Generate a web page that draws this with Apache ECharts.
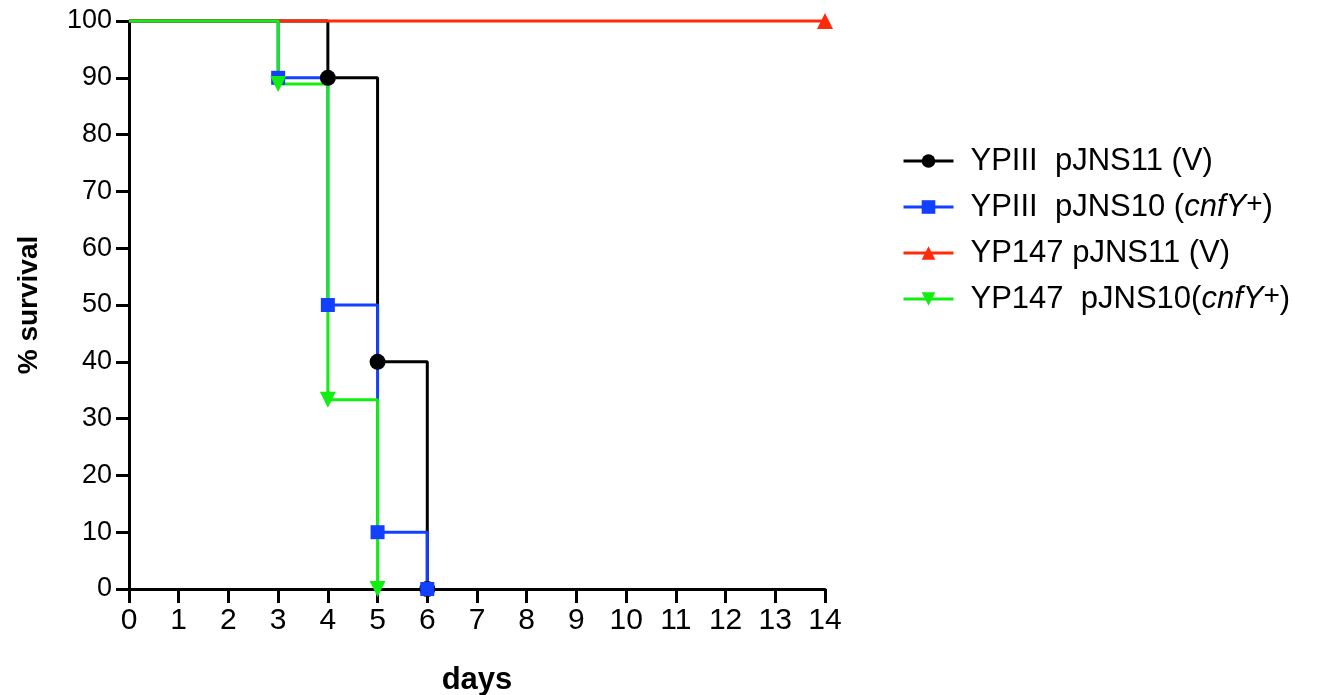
<!DOCTYPE html>
<html>
<head>
<meta charset="utf-8">
<script src="https://cdn.jsdelivr.net/npm/echarts@6/dist/echarts.min.js"></script>
<style>
html,body{margin:0;padding:0;background:#fff;}
#chart{width:1326px;height:695px;}
</style>
</head>
<body>
<div id="chart"></div>
<script>
// Kaplan-Meier survival data (day of change, % survival after change)
const seriesNames = [
  'YPIII  pJNS11 (V)',
  'YPIII  pJNS10 (cnfY+)',
  'YP147 pJNS11 (V)',
  'YP147 pJNS10(cnfY+)'
];
const blackDays = [0, 4, 5, 6];
const blackSurv = [100, 90, 40, 0];
const blueDays = [0, 3, 4, 5, 6];
const blueSurv = [100, 90, 50, 10, 0];
const redDays = [0, 14];
const redSurv = [100, 100];
const greenDays = [0, 3, 4, 5];
const greenSurv = [100, 88.9, 33.3, 0];
const xTicks = [0,1,2,3,4,5,6,7,8,9,10,11,12,13,14];
const yTicks = [0,10,20,30,40,50,60,70,80,90,100];

const legendLabels = {
  'YPIII  pJNS11 (V)': 'YPIII  pJNS11 (V)',
  'YPIII  pJNS10 (cnfY+)': 'YPIII  pJNS10 ({i|cnfY}{s|+})',
  'YP147 pJNS11 (V)': 'YP147 pJNS11 (V)',
  'YP147 pJNS10(cnfY+)': 'YP147  pJNS10({i|cnfY}{s|+})'
};

function build(days, surv) {
  return days.map((d, i) => i === 0 ? {value: [d, surv[i]], symbol: 'none'} : [d, surv[i]]);
}

const chart = echarts.init(document.getElementById('chart'), null, {renderer: 'canvas'});
const FONT = 'Liberation Sans, Arial, sans-serif';

function mk(name, days, surv, color, symbol, size, rotate) {
  return {
    name: name,
    type: 'line',
    step: 'end',
    data: build(days, surv),
    symbol: symbol,
    symbolSize: size,
    symbolRotate: rotate || 0,
    showAllSymbol: true,
    clip: false,
    lineStyle: {color: color, width: 3},
    itemStyle: {color: color, borderWidth: 0},
    emphasis: {disabled: true},
    animation: false
  };
}

chart.setOption({
  backgroundColor: '#ffffff',
  animation: false,
  grid: {left: 129, right: 501, top: 21, bottom: 106, containLabel: false, outerBoundsMode: 'none'},
  legend: {
    orient: 'vertical',
    left: 897,
    top: 139,
    itemWidth: 50,
    itemHeight: 17,
    itemGap: 12,
    data: seriesNames,
    formatter: n => legendLabels[n],
    lineStyle: {width: 3},
    textStyle: {
      fontFamily: FONT, fontSize: 31, color: '#000', lineHeight: 34, padding: [0, 0, 0, 12],
      rich: {
        i: {fontFamily: FONT, fontSize: 31, fontStyle: 'italic', color: '#000', lineHeight: 34},
        s: {fontFamily: FONT, fontSize: 28, color: '#000', verticalAlign: 'top', lineHeight: 22}
      }
    }
  },
  xAxis: {
    type: 'value',
    min: 0, max: 14, interval: 1,
    name: 'days',
    nameLocation: 'middle',
    nameGap: 76,
    nameTextStyle: {fontFamily: FONT, fontSize: 31, fontWeight: 'bold', color: '#000'},
    axisLine: {show: true, onZero: false, lineStyle: {color: '#000', width: 3}},
    axisTick: {show: true, length: 14, lineStyle: {color: '#000', width: 3}},
    axisLabel: {fontFamily: FONT, fontSize: 30, color: '#000', margin: 17,
      formatter: v => xTicks.includes(v) ? String(v) : ''},
    splitLine: {show: false}
  },
  yAxis: {
    type: 'value',
    min: 0, max: 100, interval: 10,
    name: '% survival',
    nameLocation: 'middle',
    nameGap: 86,
    nameRotate: 90,
    nameTextStyle: {fontFamily: FONT, fontSize: 28, fontWeight: 'bold', color: '#000'},
    axisLine: {show: true, onZero: false, lineStyle: {color: '#000', width: 3}},
    axisTick: {show: true, length: 13, lineStyle: {color: '#000', width: 3}},
    axisLabel: {fontFamily: FONT, fontSize: 27, color: '#000', margin: 17,
      formatter: v => yTicks.includes(v) ? String(v) : ''},
    splitLine: {show: false}
  },
  series: [
    mk(seriesNames[0], blackDays, blackSurv, '#000000', 'circle', 16),
    mk(seriesNames[1], blueDays, blueSurv, '#1240ff', 'rect', 14),
    mk(seriesNames[2], redDays, redSurv, '#ff2a0a', 'triangle', 16),
    mk(seriesNames[3], greenDays, greenSurv, '#11ee11', 'triangle', 16, 180)
  ]
});
</script>
</body>
</html>
